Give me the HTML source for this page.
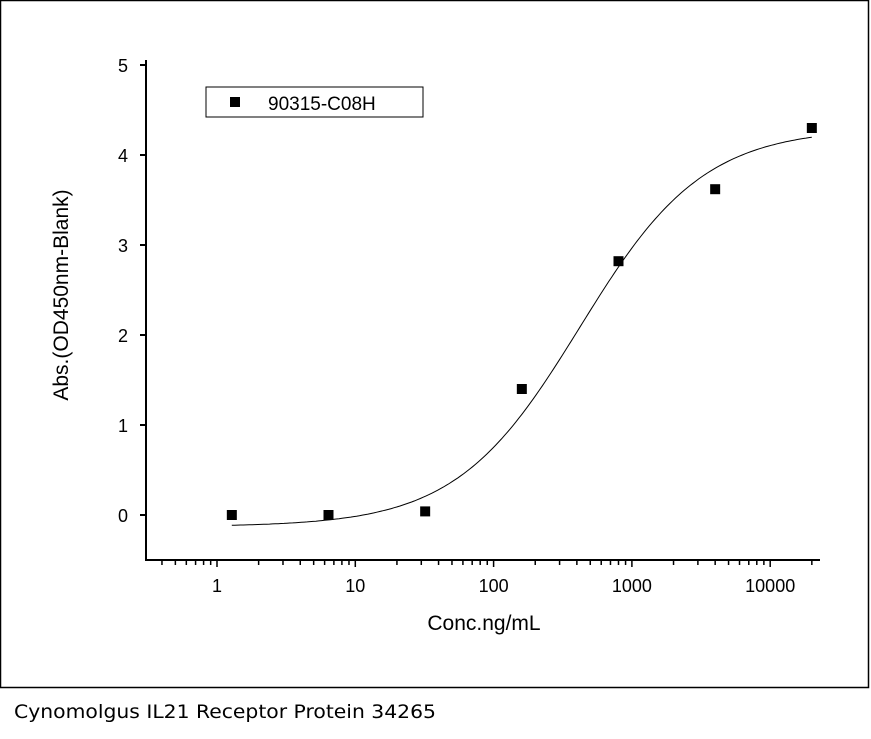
<!DOCTYPE html>
<html><head><meta charset="utf-8"><style>
body{margin:0;background:#fff;}
text{font-family:"Liberation Sans",Arial,sans-serif;fill:#000;}
</style></head><body>
<svg width="871" height="734" viewBox="0 0 871 734" xmlns="http://www.w3.org/2000/svg">
<rect x="0.5" y="0.5" width="868" height="687" fill="none" stroke="#000" stroke-width="1.5"/>
<g id="axes"></g>
<g id="marks"></g>
<text x="68" y="295" font-size="21" text-anchor="middle" transform="rotate(-90 68 295)">Abs.(OD450nm-Blank)</text>
<text x="484" y="630" font-size="21" text-anchor="middle">Conc.ng/mL</text>
<g>
<rect x="206" y="87" width="217" height="30" fill="#fff" stroke="#000" stroke-width="1"/>
<rect x="230" y="97" width="10" height="10" fill="#000"/>
<text x="268" y="110" font-size="19">90315-C08H</text>
</g>
<text x="14" y="718" font-size="19" textLength="422" lengthAdjust="spacingAndGlyphs" style="font-family:'DejaVu Sans',sans-serif">Cynomolgus IL21 Receptor Protein 34265</text>
</svg>
<script>
const concs=[1.28,6.4,32,160,800,4000,20000];
const absVals=[0,0,0.04,1.4,2.82,3.62,4.3];
const yTicks=[0,1,2,3,4,5];
const xTickLabels=["1","10","100","1000","10000"];
const fitParams=[-0.13,4.3,420,0.97]; // A(bottom), D(top), C(EC50), B(hill)
const NS="http://www.w3.org/2000/svg";
const X=v=>217+138.3*Math.log10(v);
const Y=v=>515-90*v;
const axes=document.getElementById('axes'),marks=document.getElementById('marks');
function mk(tag,at,parent){const e=document.createElementNS(NS,tag);for(const k in at)e.setAttribute(k,at[k]);parent.appendChild(e);return e;}
let e=mk('line',{x1:146,y1:560,x2:820,y2:560,stroke:'#000','stroke-width':2},axes);


e=mk('line',{x1:146,y1:60,x2:146,y2:561,stroke:'#000','stroke-width':2},axes);


yTicks.forEach(t=>{
 mk('line',{x1:140,y1:Y(t),x2:146,y2:Y(t),stroke:'#000','stroke-width':2},axes);
 e=mk('text',{x:128,y:Y(t)+7,'font-size':18,'text-anchor':'end'},axes);e.textContent=t;
 
 
});
for(let d=-1;d<=4;d++){for(let m=1;m<=9;m++){const v=m*Math.pow(10,d);const x=X(v);if(x<145||x>820)continue;
 mk('line',{x1:x,y1:560,x2:x,y2:m==1?567:565,stroke:'#000','stroke-width':1.5},axes);}}
xTickLabels.forEach(l=>{e=mk('text',{x:X(+l),y:592,'font-size':18,'text-anchor':'middle'},axes);e.textContent=l;
 
 });
const [A,D,C,B]=fitParams;let pts=[];
const lo=Math.log10(concs[0]),hi=Math.log10(concs[concs.length-1]);
for(let i=0;i<=200;i++){const v=Math.pow(10,lo+(hi-lo)*i/200);const y=D+(A-D)/(1+Math.pow(v/C,B));pts.push(X(v).toFixed(1)+','+Y(y).toFixed(1));}
e=mk('polyline',{points:pts.join(' '),fill:'none',stroke:'#000','stroke-width':1},marks);


concs.forEach((c,i)=>{e=mk('rect',{x:X(c)-5,y:Y(absVals[i])-5,width:10,height:10,fill:'#000'},marks);
 
 });
</script>
</body></html>
